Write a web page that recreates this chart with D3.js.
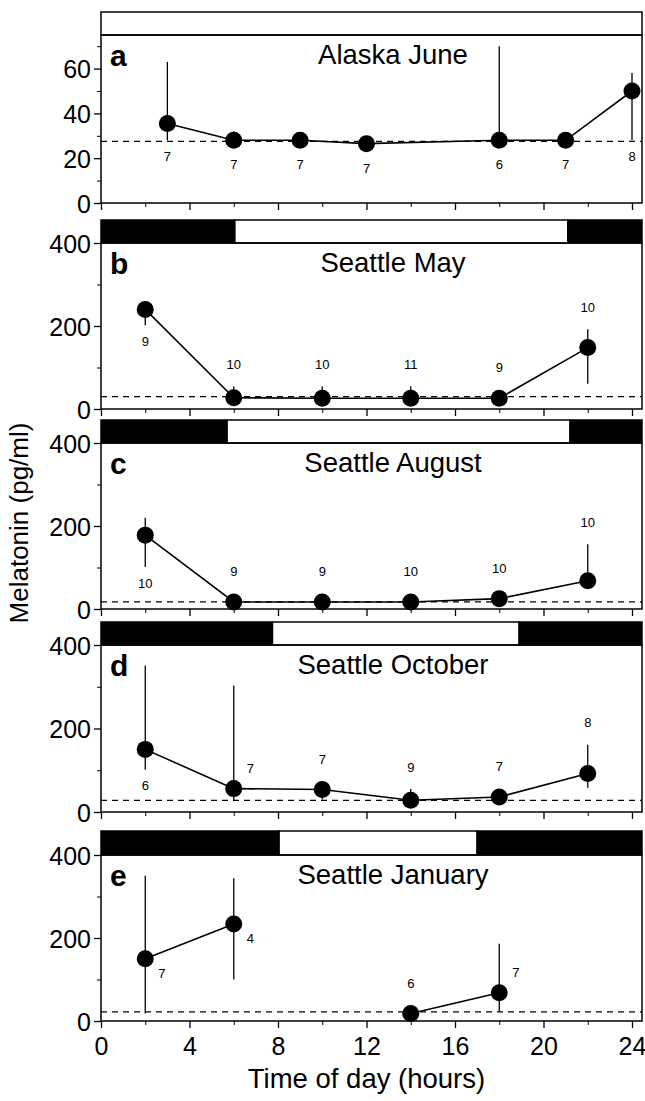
<!DOCTYPE html>
<html>
<head>
<meta charset="utf-8">
<script src="https://cdn.jsdelivr.net/npm/d3@7"></script>
<style>
  body { margin: 0; background: #fff; }
  svg { display: block; }
  text { font-family: "Liberation Sans", Arial, sans-serif; fill: #000; }
</style>
</head>
<body>
<svg id="chart" width="645" height="1101"></svg>
<script>
// sampling times (hours)
var alaskaHours  = [3, 6, 9, 12, 18, 21, 24];
var seattleHours = [2, 6, 10, 14, 18, 22];

// a - Alaska June
var alaskaMean  = [35.5, 28, 28, 26.5, 28, 28, 50];
var alaskaUpper = [63, 32, 29, 27, 70, 29, 58];
var alaskaLower = [28, 27, 27, 26, 28, 27, 28];
var alaskaN     = [7, 7, 7, 7, 6, 7, 8];
var alaskaNPos  = ["below", "below", "below", "below", "below", "below", "below"];

// b - Seattle May
var mayMean  = [240, 27, 26, 26, 26, 148];
var mayUpper = [260, 54, 54, 55, 30, 192];
var mayLower = [202, 26, 25, 25, 25, 61];
var mayN     = [9, 10, 10, 11, 9, 10];
var mayNPos  = ["below", "above", "above", "above", "above", "above"];

// c - Seattle August
var augMean  = [178, 17, 17, 17, 25, 68];
var augUpper = [220, 20, 20, 20, 28, 156];
var augLower = [101, 15, 15, 15, 22, 60];
var augN     = [10, 9, 9, 10, 10, 10];
var augNPos  = ["below", "above", "above", "above", "above", "above"];

// d - Seattle October
var octMean  = [150, 56, 54, 28, 36, 92];
var octUpper = [351, 303, 60, 55, 40, 161];
var octLower = [101, 26, 30, 20, 30, 58];
var octN     = [6, 7, 7, 9, 7, 8];
var octNPos  = ["below", "upright", "above", "above", "above", "above"];

// e - Seattle January (no samples at 10 and 22 h)
var janMean  = [150, 234, null, 18, 68, null];
var janUpper = [350, 344, null, 20, 186, null];
var janLower = [18, 100, null, 15, 24, null];
var janN     = [7, 4, null, 6, 7, null];
var janNPos  = ["right", "right", null, "above", "upright", null];

// baseline (dashed) levels
var baselines = [27.5, 30, 17, 28, 22];

// light period (hours), null = no bar shading
var lightOn  = [null, 6.05, 5.7, 7.75, 8.05];
var lightOff = [null, 21.1, 21.2, 18.9, 17.0];

var letters = ["a", "b", "c", "d", "e"];
var titles  = ["Alaska June", "Seattle May", "Seattle August", "Seattle October", "Seattle January"];

var smallTicks = [0, 20, 40, 60], smallMinor = [10, 30, 50, 70];
var bigTicks   = [0, 200, 400],   bigMinor   = [100, 300];
var hourTicks  = [0, 4, 8, 12, 16, 20, 24];
var hourMinor  = [2, 6, 10, 14, 18, 22];

// layout
var left = 101, right = 642;
var layout = [
  {barTop: 12,  top: 35,  bottom: 203, max: 75},
  {barTop: 220, top: 243, bottom: 409, max: 400},
  {barTop: 420, top: 443, bottom: 609, max: 400},
  {barTop: 622, top: 645, bottom: 812, max: 400},
  {barTop: 831, top: 855, bottom: 1021, max: 400}
];

var panels = [
  {x: alaskaHours,  mean: alaskaMean, up: alaskaUpper, lo: alaskaLower, n: alaskaN, pos: alaskaNPos, major: smallTicks, minor: smallMinor},
  {x: seattleHours, mean: mayMean, up: mayUpper, lo: mayLower, n: mayN, pos: mayNPos, major: bigTicks, minor: bigMinor},
  {x: seattleHours, mean: augMean, up: augUpper, lo: augLower, n: augN, pos: augNPos, major: bigTicks, minor: bigMinor},
  {x: seattleHours, mean: octMean, up: octUpper, lo: octLower, n: octN, pos: octNPos, major: bigTicks, minor: bigMinor},
  {x: seattleHours, mean: janMean, up: janUpper, lo: janLower, n: janN, pos: janNPos, major: bigTicks, minor: bigMinor}
];

var svg = d3.select("#chart");
svg.append("rect").attr("width", 645).attr("height", 1101).attr("fill", "#fff");

var x = d3.scaleLinear().domain([0, 24]).range([left, 632]);
var xEnd = x.invert(right);
var r = 8.5;

panels.forEach(function(p, i) {
  var L = layout[i];
  var y = d3.scaleLinear().domain([0, L.max]).range([L.bottom, L.top]);
  var g = svg.append("g");

  // light/dark bar
  if (lightOn[i] === null) {
    g.append("rect").attr("x", left).attr("y", L.barTop)
      .attr("width", right - left).attr("height", L.top - L.barTop)
      .attr("fill", "#fff").attr("stroke", "#000").attr("stroke-width", 1.5);
  } else {
    var segs = [[0, lightOn[i], "#000"], [lightOn[i], lightOff[i], "#fff"], [lightOff[i], xEnd, "#000"]];
    segs.forEach(function(s) {
      g.append("rect").attr("x", x(s[0])).attr("y", L.barTop)
        .attr("width", x(s[1]) - x(s[0])).attr("height", L.top - L.barTop)
        .attr("fill", s[2]).attr("stroke", "#000").attr("stroke-width", 1.5);
    });
  }

  // frame
  g.append("rect").attr("x", left).attr("y", L.top)
    .attr("width", right - left).attr("height", L.bottom - L.top)
    .attr("fill", "none").attr("stroke", "#000").attr("stroke-width", 1.5);

  // y axis
  var ya = g.append("g").attr("transform", "translate(" + left + ",0)")
    .call(d3.axisLeft(y).tickValues(p.major).tickSize(7).tickPadding(3));
  ya.select(".domain").remove();
  ya.selectAll("text").style("font-size", "25px").attr("dy", "0.36em");
  ya.selectAll("line").attr("stroke-width", 1.3);
  var ym = g.append("g").attr("transform", "translate(" + left + ",0)")
    .call(d3.axisLeft(y).tickValues(p.minor).tickSize(4).tickFormat(""));
  ym.select(".domain").remove();

  // x ticks under each panel
  var xa = g.append("g").attr("transform", "translate(0," + L.bottom + ")")
    .call(d3.axisBottom(x).tickValues(hourTicks).tickSize(7).tickPadding(9));
  xa.select(".domain").remove();
  xa.selectAll("line").attr("stroke-width", 1.3);
  if (i < panels.length - 1) xa.selectAll("text").remove();
  else xa.selectAll("text").style("font-size", "25px");
  var xm = g.append("g").attr("transform", "translate(0," + L.bottom + ")")
    .call(d3.axisBottom(x).tickValues(hourMinor).tickSize(4).tickFormat(""));
  xm.select(".domain").remove();

  // baseline
  g.append("line").attr("x1", left).attr("x2", right)
    .attr("y1", y(baselines[i])).attr("y2", y(baselines[i]))
    .attr("stroke", "#000").attr("stroke-width", 1.3).attr("stroke-dasharray", "6,5");

  var pts = p.x.map(function(h, k) {
    return {h: h, m: p.mean[k], u: p.up[k], l: p.lo[k], n: p.n[k], pos: p.pos[k]};
  }).filter(function(d) { return d.m !== null; });

  // error bars
  g.selectAll(".err").data(pts).enter().append("line")
    .attr("x1", function(d) { return x(d.h); }).attr("x2", function(d) { return x(d.h); })
    .attr("y1", function(d) { return y(d.l); }).attr("y2", function(d) { return y(d.u); })
    .attr("stroke", "#000").attr("stroke-width", 1.3);

  // connecting line (gaps where no sample)
  var line = d3.line()
    .defined(function(d) { return d.m !== null; })
    .x(function(d) { return x(d.h); })
    .y(function(d) { return y(d.m); });
  var full = p.x.map(function(h, k) { return {h: h, m: p.mean[k]}; });
  g.append("path").attr("d", line(full))
    .attr("fill", "none").attr("stroke", "#000").attr("stroke-width", 1.6);

  g.selectAll(".dot").data(pts).enter().append("circle")
    .attr("cx", function(d) { return x(d.h); })
    .attr("cy", function(d) { return y(d.m); })
    .attr("r", r).attr("fill", "#000");

  // n labels
  g.selectAll(".n").data(pts).enter().append("text")
    .attr("x", function(d) {
      return x(d.h) + (d.pos === "right" || d.pos === "upright" ? 13 : 0);
    })
    .attr("y", function(d) {
      if (d.pos === "below") return Math.max(y(d.l), y(d.m) + r) + 16;
      if (d.pos === "above") return Math.min(y(d.u), y(d.m) - r) - 22;
      if (d.pos === "right") return y(d.m) + 15;
      return y(d.m) - 20;
    })
    .attr("dy", "0.35em")
    .attr("text-anchor", function(d) { return d.pos === "right" || d.pos === "upright" ? "start" : "middle"; })
    .style("font-size", "13px")
    .text(function(d) { return d.n; });

  // panel letter and title
  g.append("text").attr("x", 110).attr("y", L.top + 31)
    .style("font-size", "30px").style("font-weight", "bold").text(letters[i]);
  g.append("text").attr("x", 393).attr("y", L.top + 29)
    .attr("text-anchor", "middle").style("font-size", "27.5px").text(titles[i]);
});

// axis titles
svg.append("text").attr("x", x(12)).attr("y", 1088)
  .attr("text-anchor", "middle").style("font-size", "27.5px")
  .text("Time of day (hours)");

svg.append("text")
  .attr("transform", "translate(28,523) rotate(-90)")
  .attr("text-anchor", "middle").style("font-size", "26px")
  .text("Melatonin (pg/ml)");
</script>
</body>
</html>
